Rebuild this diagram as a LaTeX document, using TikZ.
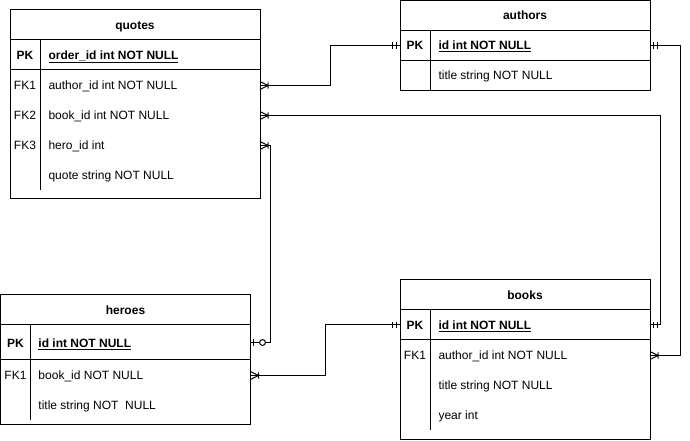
\documentclass[tikz,border=0pt]{standalone}
\usepackage{fontspec}
\setmainfont{Liberation Sans}
\usetikzlibrary{positioning,calc,decorations.markings}

\begin{document}
\begin{tikzpicture}[
  x=0.75pt,y=-0.75pt,
  line width=0.75pt,
  font=\fontsize{9}{11}\selectfont,
  tbl/.style={draw,minimum width=187.5pt,inner sep=0pt,outer sep=0pt,
              text height=6.4pt,text depth=0pt},
  hdr/.style={tbl,minimum height=22.5pt,anchor=north west,
              font=\fontsize{9}{11}\selectfont\bfseries},
  fld/.style={anchor=west,inner sep=0pt,text height=6.4pt,text depth=0pt},
  key/.style={inner sep=0pt,text height=6.4pt,text depth=0pt},
  pk/.style={font=\fontsize{9}{11}\selectfont\bfseries},
  link/.style={draw,line width=0.75pt},
  many start/.style={postaction={decorate,decoration={markings,
      mark=at position 0 with {\draw[line width=0.75pt]
        (0pt,3pt) -- (6pt,0pt) -- (0pt,-3pt) (6pt,2.4pt) -- (6pt,-2.4pt);}}}},
  one end/.style={postaction={decorate,decoration={markings,
      mark=at position 1 with {\draw[line width=0.75pt]
        (-2.5pt,2.6pt) -- (-2.5pt,-2.6pt) (-5.3pt,2.6pt) -- (-5.3pt,-2.6pt);}}}},
  zero one end/.style={postaction={decorate,decoration={markings,
      mark=at position 1 with {\draw[line width=0.75pt]
        (-2.5pt,2.3pt) -- (-2.5pt,-2.3pt);
        \draw[line width=0.75pt,fill=white] (-9pt,0pt) circle (2.2pt);}}}},
]
\useasboundingbox (0,0) rectangle (690,441);

% quotes
\node[hdr] (quotes) at (10,10) {quotes};
\node[tbl,minimum height=22.5pt,below=0pt of quotes] (quotes-pk) {};
\node[tbl,minimum height=96.75pt,below=0pt of quotes-pk] (quotes-body) {};
\draw (quotes-pk.north west) ++(30,0) -- ++(0,150);
\node[key,pk] (q-pk) at (25,55) {PK};
\node[fld,pk] (q-order) at (48,55) {\underline{order\_id int NOT NULL}};
\node[key] (q-fk1) at (25,85.5) {FK1};
\node[fld] (q-author) at (48,85.5) {author\_id int NOT NULL};
\node[key] (q-fk2) at (25,115.5) {FK2};
\node[fld] (q-book) at (48,115.5) {book\_id int NOT NULL};
\node[key] (q-fk3) at (25,145.5) {FK3};
\node[fld] (q-hero) at (48,145.5) {hero\_id int};
\node[fld] (q-quote) at (48,175.5) {quote string NOT NULL};

% authors
\node[hdr] (authors) at (400,0.5) {authors};
\node[tbl,minimum height=22.5pt,below=0pt of authors] (authors-pk) {};
\node[tbl,minimum height=22.5pt,below=0pt of authors-pk] (authors-body) {};
\draw (authors-pk.north west) ++(30,0) -- ++(0,60);
\node[key,pk] (a-pk) at (415,45) {PK};
\node[fld,pk] (a-id) at (438,45) {\underline{id int NOT NULL}};
\node[fld] (a-title) at (438,75.5) {title string NOT NULL};

% heroes
\node[hdr] (heroes) at (0.5,295) {heroes};
\node[tbl,minimum height=26.25pt,below=0pt of heroes] (heroes-pk) {};
\node[tbl,minimum height=48.75pt,below=0pt of heroes-pk] (heroes-body) {};
\draw (heroes-pk.north west) ++(30,0) -- ++(0,95);
\node[key,pk] (h-pk) at (15.5,343) {PK};
\node[fld,pk] (h-id) at (38,343) {\underline{id int NOT NULL}};
\node[key] (h-fk1) at (15.5,375.5) {FK1};
\node[fld] (h-book) at (38,375.5) {book\_id NOT NULL};
\node[fld] (h-title) at (38,405.5) {title string NOT\ \ NULL};

% books
\node[hdr] (books) at (400,280) {books};
\node[tbl,minimum height=22.5pt,below=0pt of books] (books-pk) {};
\node[tbl,minimum height=74.6pt,below=0pt of books-pk] (books-body) {};
\draw (books-pk.north west) ++(30,0) -- ++(0,120);
\node[key,pk] (b-pk) at (415,325) {PK};
\node[fld,pk] (b-id) at (438,325) {\underline{id int NOT NULL}};
\node[key] (b-fk1) at (415,355.5) {FK1};
\node[fld] (b-author) at (438,355.5) {author\_id int NOT NULL};
\node[fld] (b-title) at (438,385.5) {title string NOT NULL};
\node[fld] (b-year) at (438,415.5) {year int};

% relations
\draw[link,many start,one end] (quotes-body.east |- q-author) -- ++(70,0) |- (authors-pk.west);
\draw[link,many start,one end] (quotes-body.east |- q-book) -- ++(400,0) |- (books-pk.east);
\draw[link,many start,zero one end] (quotes-body.east |- q-hero) -- ++(10,0) |- (heroes-pk.east);
\draw[link,many start,one end] (books-body.east |- b-author) -- ++(30,0) |- (authors-pk.east);
\draw[link,many start,one end] (heroes-body.east |- h-book) -- ++(75,0) |- (books-pk.west);
\end{tikzpicture}
\end{document}
